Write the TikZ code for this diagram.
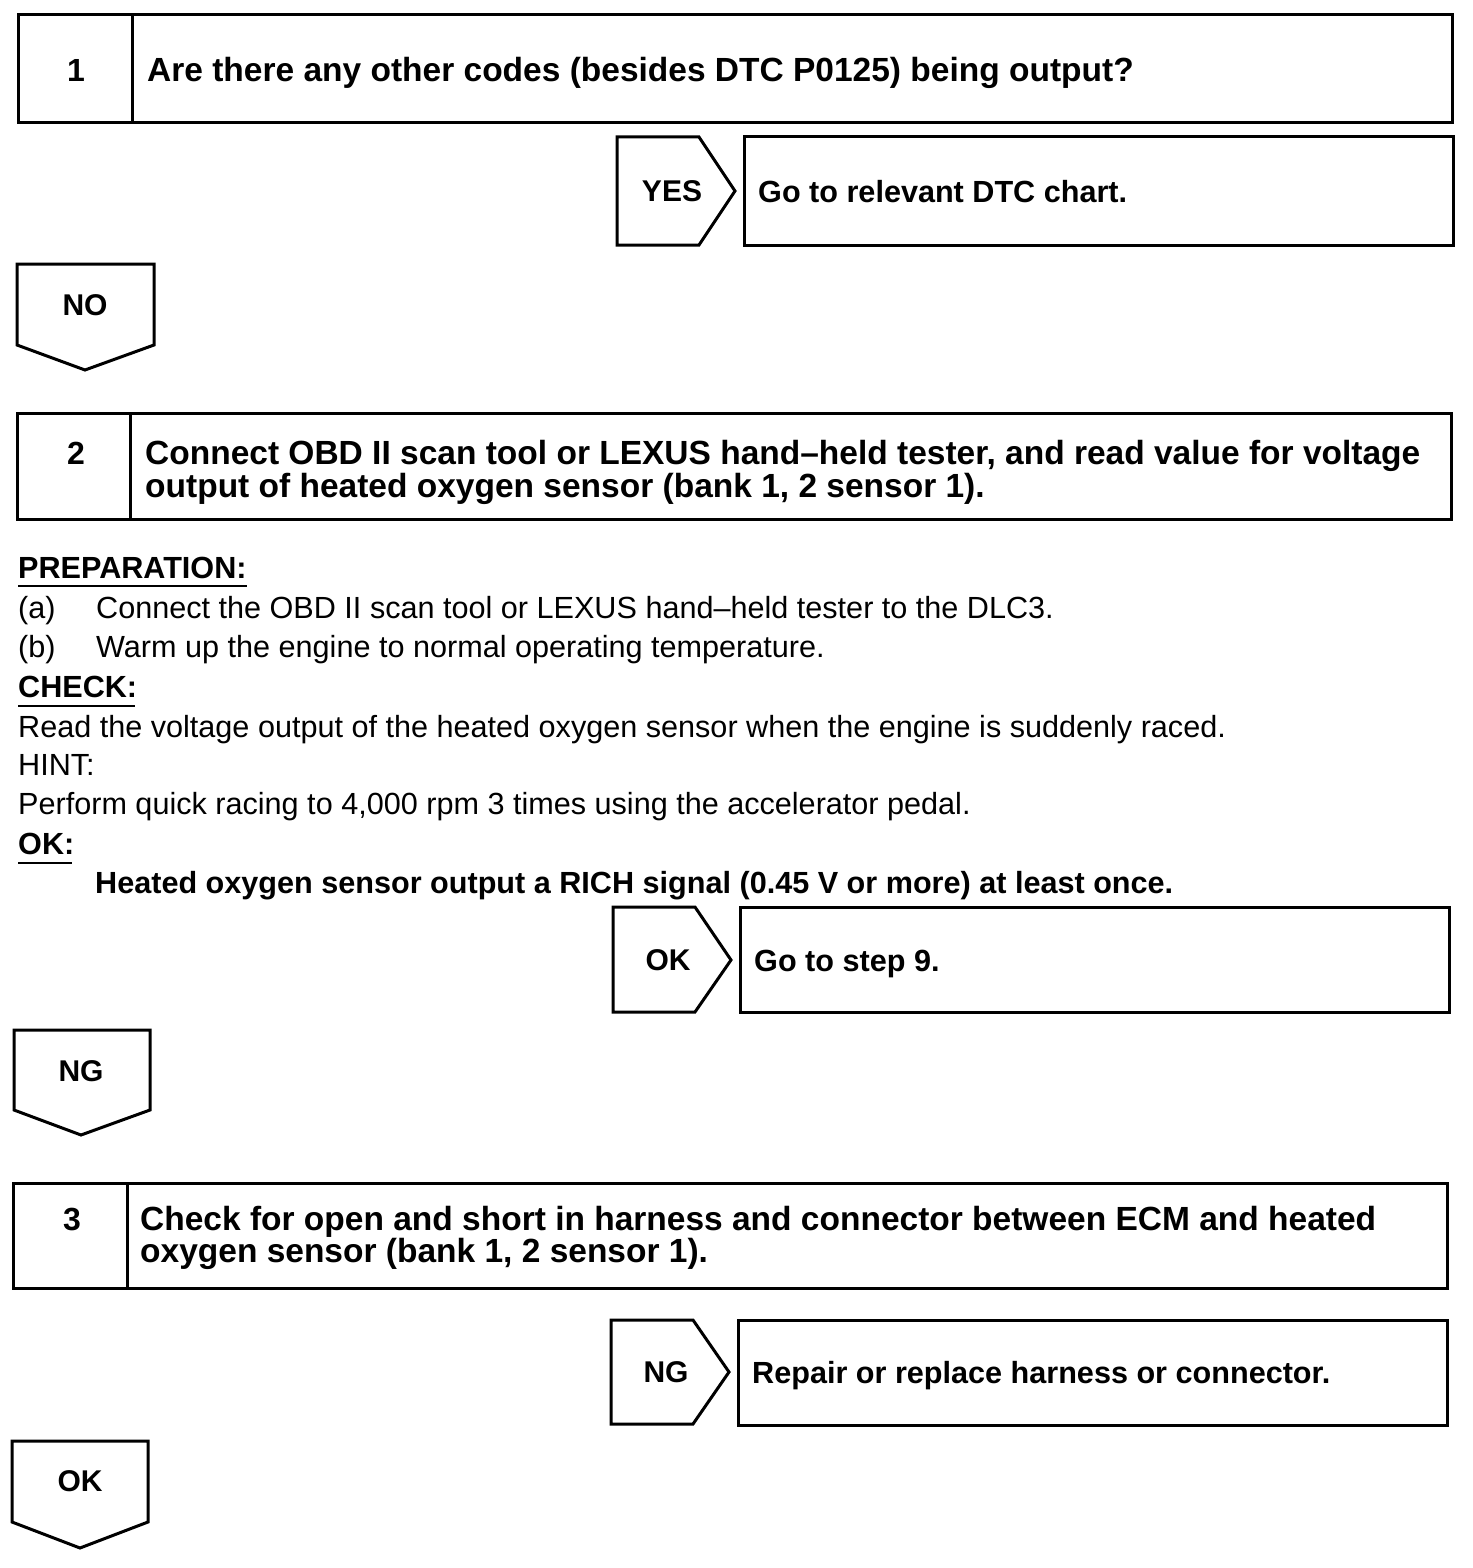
\documentclass[tikz,border=0pt]{standalone}
\usepackage{fontspec}
\setmainfont{Liberation Sans}
\begin{document}
\begin{tikzpicture}[x=1pt,y=-1pt,
  box/.style={draw,line width=3pt,line join=miter},
  hd/.style={font=\fontsize{33.5}{33}\selectfont\bfseries,anchor=base west,inner sep=0pt},
  num/.style={font=\fontsize{32}{33}\selectfont\bfseries,anchor=base,inner sep=0pt},
  lab/.style={font=\fontsize{30}{30}\selectfont\bfseries,anchor=center,inner sep=0pt},
  res/.style={font=\fontsize{30.6}{31}\selectfont\bfseries,anchor=base west,inner sep=0pt},
  body/.style={font=\fontsize{30.6}{31}\selectfont,anchor=base west,inner sep=0pt},
  bodyb/.style={font=\fontsize{30.6}{31}\selectfont\bfseries,anchor=base west,inner sep=0pt},
  uline/.style={line width=1.6pt}]
\useasboundingbox (0,0) rectangle (1472,1568);

% ---- Step 1 ----
\draw[box] (18,15) rectangle (1452,123);
\draw[box] (132,15) -- (132,123);
\node[num] (n1) at (76,82) {1};
\node[hd] (t1) at (147,82) {Are there any other codes (besides DTC P0125) being output?};

\draw[box] (617,137) -- (699,137) -- (735,191) -- (699,245) -- (617,245) -- cycle;
\node[lab] (yes1) at (672,191) {YES};
\draw[box] (744,137) rectangle (1453,245);
\node[res] (r1) at (758,202) {Go to relevant DTC chart.};

\draw[box] (17,264) -- (154,264) -- (154,345) -- (85,370) -- (17,345) -- cycle;
\node[lab] (no1) at (85,305) {NO};

% ---- Step 2 ----
\draw[box] (17,413) rectangle (1451,519);
\draw[box] (130,413) -- (130,519);
\node[num] (n2) at (76,464) {2};
\node[hd] (t2a) at (145,464) {Connect OBD II scan tool or LEXUS hand–held tester, and read value for voltage};
\node[hd] (t2b) at (145,497) {output of heated oxygen sensor (bank 1, 2 sensor 1).};

\node[bodyb] (prep) at (18,578) {PREPARATION:};
\draw[uline] (18,586) -- (247,586);
\node[body] (pa) at (18,618) {(a)};
\node[body] (pat) at (96,618) {Connect the OBD II scan tool or LEXUS hand–held tester to the DLC3.};
\node[body] (pb) at (18,657) {(b)};
\node[body] (pbt) at (96,657) {Warm up the engine to normal operating temperature.};
\node[bodyb] (chk) at (18,697) {CHECK:};
\draw[uline] (18,706) -- (135,706);
\node[body] (chkt) at (18,737) {Read the voltage output of the heated oxygen sensor when the engine is suddenly raced.};
\node[body] (hint) at (18,775) {HINT:};
\node[body] (hintt) at (18,814) {Perform quick racing to 4,000 rpm 3 times using the accelerator pedal.};
\node[bodyb] (okh) at (18,854) {OK:};
\draw[uline] (18,863) -- (72,863);
\node[bodyb] (okt) at (95,893) {Heated oxygen sensor output a RICH signal (0.45 V or more) at least once.};

\draw[box] (613,907) -- (695,907) -- (731,960) -- (695,1012) -- (613,1012) -- cycle;
\node[lab] (ok2) at (668,960) {OK};
\draw[box] (740,907) rectangle (1449,1012);
\node[res] (r2) at (754,971) {Go to step 9.};

\draw[box] (14,1030) -- (150,1030) -- (150,1110) -- (81,1135) -- (14,1110) -- cycle;
\node[lab] (ng2) at (81,1071) {NG};

% ---- Step 3 ----
\draw[box] (13,1183) rectangle (1447,1288);
\draw[box] (127,1183) -- (127,1288);
\node[num] (n3) at (72,1230) {3};
\node[hd] (t3a) at (140,1230) {Check for open and short in harness and connector between ECM and heated};
\node[hd] (t3b) at (140,1262) {oxygen sensor (bank 1, 2 sensor 1).};

\draw[box] (611,1320) -- (693,1320) -- (729,1372) -- (693,1424) -- (611,1424) -- cycle;
\node[lab] (ng3) at (666,1372) {NG};
\draw[box] (738,1320) rectangle (1447,1425);
\node[res] (r3) at (752,1383) {Repair or replace harness or connector.};

\draw[box] (12,1441) -- (148,1441) -- (148,1522) -- (80,1548) -- (12,1522) -- cycle;
\node[lab] (ok3) at (80,1481) {OK};
\end{tikzpicture}
\end{document}
